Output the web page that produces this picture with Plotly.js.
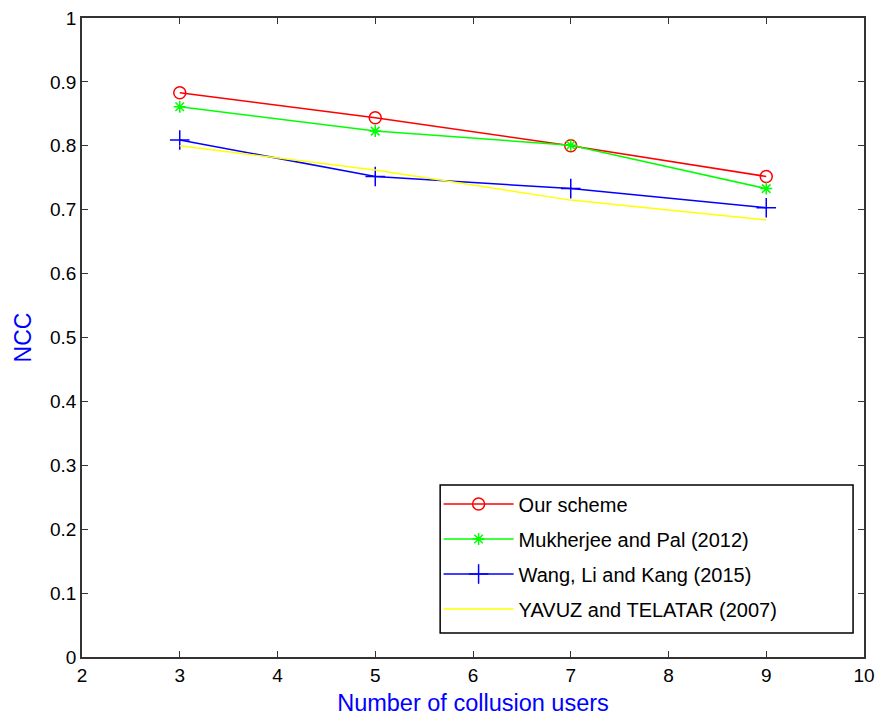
<!DOCTYPE html>
<html><head><meta charset="utf-8">
<script src="https://cdn.plot.ly/plotly-3.0.1.min.js"></script>
<style>body{margin:0;background:#fff}</style>
</head><body>
<div id="chart" style="width:881px;height:717px"></div>
<script>
const xUsers = [3, 5, 7, 9];
const ourScheme = [0.883, 0.844, 0.800, 0.752];
const mukherjee = [0.861, 0.823, 0.801, 0.733];
const wang = [0.809, 0.752, 0.733, 0.703];
const yavuz = [0.800, 0.762, 0.715, 0.684];
const seriesNames = ["Our scheme", "Mukherjee and Pal (2012)", "Wang, Li and Kang (2015)", "YAVUZ and TELATAR (2007)"];
const xTicks = [2,3,4,5,6,7,8,9,10];
const yTicks = [0,0.1,0.2,0.3,0.4,0.5,0.6,0.7,0.8,0.9,1];
const yTickText = ["0","0.1","0.2","0.3","0.4","0.5","0.6","0.7","0.8","0.9","1"];

const traces = [
  {x:xUsers, y:ourScheme, name:seriesNames[0], legendgroup:"g1", mode:"lines+markers",
   line:{color:"#ff0000", width:1.5}, marker:{symbol:"circle-open", size:12, color:"#ff0000", line:{width:1.5}}},
  {x:xUsers, y:mukherjee, name:seriesNames[1], legendgroup:"g2", mode:"lines+markers",
   line:{color:"#00ff00", width:1.5}, marker:{symbol:"asterisk-open", size:10, color:"#00ff00", line:{width:1.5, color:"#00ff00"}}},
  {x:xUsers, y:wang, name:seriesNames[2], legendgroup:"g3", mode:"lines+markers",
   line:{color:"#0000ff", width:1.5}, marker:{symbol:"cross-thin-open", size:14, color:"#0000ff", line:{width:1.5, color:"#0000ff"}}},
  {x:xUsers, y:yavuz, name:seriesNames[3], legendgroup:"g4", mode:"lines",
   line:{color:"#ffff00", width:1.5}}
];

const layout = {
  width:881, height:717,
  margin:{l:82, r:17, t:18, b:60},
  paper_bgcolor:"#fff", plot_bgcolor:"#fff",
  font:{family:"Liberation Sans, Arial, sans-serif", size:19, color:"#000"},
  showlegend:true,
  legend:{x:0.456, y:0.270, xanchor:"left", yanchor:"top", bgcolor:"rgba(0,0,0,0)",
    borderwidth:0, font:{size:20, color:"#000"},
    tracegroupgap:6, itemwidth:70},
  shapes:[{type:"rect", xref:"paper", yref:"paper", x0:0.458, x1:0.986, y0:0.0376, y1:0.269,
    line:{color:"#000", width:1.5}, fillcolor:"#fff", layer:"above"}],
  xaxis:{range:[2,10], tickvals:xTicks, ticktext:xTicks.map(String),
    ticks:"inside", ticklen:6, tickcolor:"#333", showgrid:false, zeroline:false,
    showline:true, linecolor:"#333", linewidth:1.5, mirror:"ticks",
    tickfont:{size:19}, title:{text:"Number of collusion users", font:{size:23.5, color:"#0000ff"}, standoff:10}},
  yaxis:{range:[0,1], tickvals:yTicks, ticktext:yTickText,
    ticks:"inside", ticklen:6, tickcolor:"#333", showgrid:false, zeroline:false,
    showline:true, linecolor:"#333", linewidth:1.5, mirror:"ticks",
    tickfont:{size:19}, title:{text:"NCC", font:{size:23, color:"#0000ff"}, standoff:12}}
};
Plotly.newPlot("chart", traces, layout, {displayModeBar:false});
</script>
</body></html>
